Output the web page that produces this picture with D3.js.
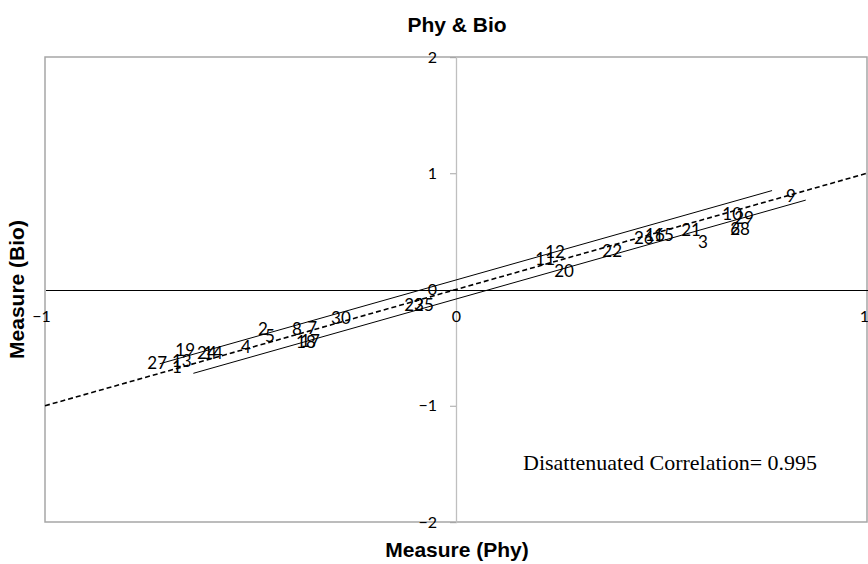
<!DOCTYPE html>
<html><head><meta charset="utf-8">
<script src="https://cdn.jsdelivr.net/npm/d3@7/dist/d3.min.js"></script>
<style>
html,body{margin:0;padding:0;background:#fff;}
svg{display:block;}
</style></head>
<body>
<svg id="chart" width="868" height="564"></svg>
<script>
const labels = ["1","2","3","4","5","6","7","8","9","10","11","12","13","14","15","16","17","18","19","20","21","22","23","24","25","26","27","28","29","30"];
const phy = [-0.679,-0.470,0.601,-0.511,-0.453,0.679,-0.350,-0.387,0.815,0.672,0.217,0.241,-0.667,-0.591,0.506,0.484,-0.355,-0.365,-0.659,0.263,0.572,0.380,-0.102,-0.606,-0.078,0.457,-0.727,0.691,0.701,-0.280];
const bio = [-0.667,-0.340,0.409,-0.495,-0.400,0.520,-0.331,-0.340,0.804,0.649,0.262,0.323,-0.615,-0.546,0.469,0.469,-0.443,-0.451,-0.520,0.159,0.512,0.331,-0.133,-0.546,-0.133,0.443,-0.632,0.520,0.615,-0.245];
const identityLine = [[-1,-1],[1,1]];
const bandUpper = [[-0.721,-0.639],[0.769,0.851]];
const bandLower = [[-0.639,-0.721],[0.851,0.769]];
const xTicks = [-1,0,1];
const yTicks = [-2,-1,0,1,2];
const title = "Phy & Bio";
const xTitle = "Measure (Phy)";
const yTitle = "Measure (Bio)";
const note = "Disattenuated Correlation= 0.995";

const svg = d3.select("#chart");
const L=45, R=867, T=57, B=522;
const x = d3.scaleLinear().domain([-1,1]).range([L,R]);
const y = d3.scaleLinear().domain([-2,2]).range([B,T]);

// plot border
svg.append("rect").attr("x",L).attr("y",T).attr("width",R-L).attr("height",B-T)
  .attr("fill","none").attr("stroke","#a6a6a6").attr("stroke-width",1.5);

// y axis (vertical, gray) at x=0
const yAxis = d3.axisLeft(y).tickValues(yTicks).tickFormat(d3.format("d")).tickSize(6).tickPadding(13);
const gy = svg.append("g").attr("transform",`translate(${x(0)},0)`).call(yAxis);
gy.select(".domain").attr("stroke","#bfbfbf").attr("stroke-width",1.3);
gy.selectAll(".tick line").attr("stroke","#a6a6a6");
gy.selectAll("text").attr("font-family","Lato, 'Open Sans', sans-serif").attr("font-size",16).attr("fill","#000");

// x axis (horizontal, black) at y=0
const xAxis = d3.axisBottom(x).tickValues(xTicks).tickFormat(d3.format("d")).tickSize(0).tickPadding(21);
const gx = svg.append("g").attr("transform",`translate(0,${y(0)})`).call(xAxis);
gx.select(".domain").attr("stroke","#000").attr("stroke-width",1).attr("shape-rendering","crispEdges");
gx.selectAll("text").attr("font-family","Lato, 'Open Sans', sans-serif").attr("font-size",16).attr("fill","#000");
gx.selectAll(".tick text").filter(d=>d===1).attr("dx","-3");
gx.selectAll(".tick text").filter(d=>d===-1).attr("dx","-4");

const line = d3.line().x(d=>x(d[0])).y(d=>y(d[1]));
svg.append("path").attr("d",line(bandUpper)).attr("fill","none").attr("stroke","#000").attr("stroke-width",1);
svg.append("path").attr("d",line(bandLower)).attr("fill","none").attr("stroke","#000").attr("stroke-width",1);
svg.append("path").attr("d",line(identityLine)).attr("fill","none").attr("stroke","#000")
  .attr("stroke-width",1.6).attr("stroke-dasharray","5,3");

// point labels
svg.append("g").selectAll("text").data(labels).join("text")
  .attr("x",(d,i)=>x(phy[i])).attr("y",(d,i)=>y(bio[i]))
  .attr("text-anchor","middle").attr("dy","0.36em")
  .attr("font-family","Lato, 'Open Sans', sans-serif").attr("font-size",17).attr("fill","#000")
  .text(d=>d);

// titles
svg.append("text").attr("x",457).attr("y",32).attr("text-anchor","middle")
  .attr("font-family","'Liberation Sans', Arial, sans-serif").attr("font-weight","bold").attr("font-size",21).text(title);
svg.append("text").attr("x",457).attr("y",557).attr("text-anchor","middle")
  .attr("font-family","'Liberation Sans', Arial, sans-serif").attr("font-weight","bold").attr("font-size",21).text(xTitle);
svg.append("text").attr("transform",`translate(24,${(T+B)/2}) rotate(-90)`).attr("text-anchor","middle")
  .attr("font-family","'Liberation Sans', Arial, sans-serif").attr("font-weight","bold").attr("font-size",21).text(yTitle);
svg.append("text").attr("x",523).attr("y",470)
  .attr("font-family","'Liberation Serif', 'Times New Roman', serif").attr("font-size",22).attr("fill","#000").text(note);
</script>
</body></html>
